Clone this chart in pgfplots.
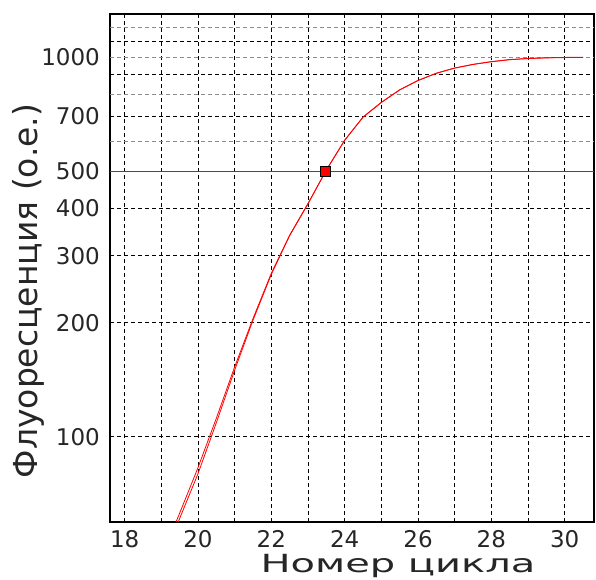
\documentclass[border=0pt]{standalone}
\usepackage{fontspec}
\setmainfont{DejaVu Sans}
\usepackage{graphicx}
\usepackage{pgfplots}
\pgfplotsset{compat=1.18}
\begin{document}
\begin{tikzpicture}[x=1pt,y=1pt]
\useasboundingbox (0,0) rectangle (596,579);
\begin{axis}[
  at={(110pt,57pt)}, anchor=south west,
  scale only axis, width=484pt, height=508pt,
  xmin=17.6, xmax=30.8,
  ymode=log, ymin=59.7, ymax=1300,
  xtick={18,20,22,24,26,28,30},
  xticklabels={18,20,22,24,26,28,30},
  minor xtick={19,21,23,25,27,29},
  ytick={100,200,300,400,500,700},
  yticklabels={100,200,300,400,500,700},
  minor ytick={900,1100},
  extra y ticks={600,800,1000,1200},
  extra y tick labels={,,1000,},
  extra y tick style={major grid style={black!45, dash pattern=on 4pt off 3pt, line width=0.9pt}},
  major tick length=0pt, minor tick length=0pt,
  grid=both,
  major grid style={black, dash pattern=on 4pt off 3pt, line width=0.9pt},
  minor grid style={black, dash pattern=on 4pt off 3pt, line width=0.9pt},
  axis line style={black, line width=1.5pt},
  tick label style={font=\fontsize{23}{23}\selectfont, text=black!85},
  yticklabel style={anchor=east, inner sep=0pt, xshift=-10pt},
  xticklabel style={anchor=north, inner sep=0pt, yshift=-8pt},
  clip=true,
]
\addplot[draw=black!70, line width=0.8pt] coordinates {(17.6,500) (30.8,500)};
\addplot[red, line width=0.8pt] coordinates {
(19,48) (19.5,63) (20,83) (20.5,112) (21,153) (21.5,205) (22,270) (22.5,340)
(23,412) (23.5,505) (24,605) (24.5,695) (25,760) (25.5,820) (26,868) (26.5,907)
(27,936) (27.5,957) (28,973) (28.5,985) (29,992) (29.5,996) (30,998) (30.5,999)
};
\addplot[red, line width=0.8pt] coordinates {
(19,46) (19.5,61) (20,80) (20.5,109) (21,150) (21.5,203) (22,268) (22.5,339)
(23,411) (23.5,504) (24,604) (24.5,696) (25,761) (25.5,821) (26,869) (26.5,908)
(27,937) (27.5,958) (28,974) (28.5,986) (29,993) (29.5,997) (30,999) (30.5,1000)
};
\addplot[only marks, mark=square*, mark size=5pt,
  mark options={fill=red, draw=black, line width=0.8pt}] coordinates {(23.47,500)};
\end{axis}
\node[rotate=90, anchor=base, font=\fontsize{33}{33}\selectfont, text=black!85] at (37pt,288pt) {Флуоресценция (о.е.)};
\node[anchor=base, font=\fontsize{25}{25}\selectfont, text=black!85] at (398pt,7pt) {\scalebox{1.6}[1]{Номер цикла}};
\end{tikzpicture}
\end{document}
